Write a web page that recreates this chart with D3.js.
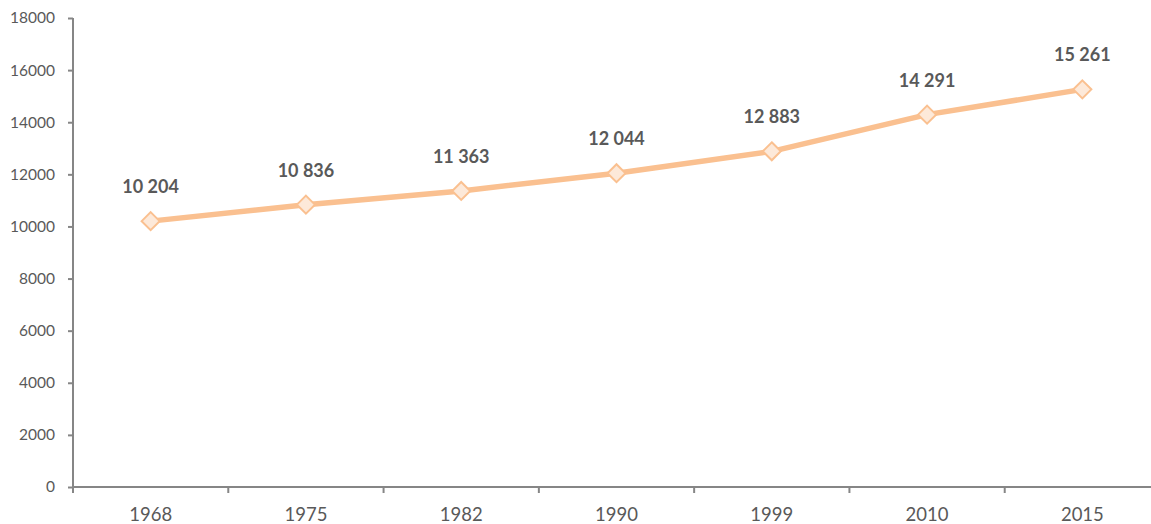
<!DOCTYPE html>
<html><head><meta charset="utf-8">
<script src="https://cdn.jsdelivr.net/npm/d3@7"></script>
<style>body{margin:0;background:#fff}svg{display:block}</style>
</head><body>
<svg id="c" width="1151" height="524"></svg>
<script>
const years = ["1968","1975","1982","1990","1999","2010","2015"];
const values = [10204,10836,11363,12044,12883,14291,15261];
const yTicks = [0,2000,4000,6000,8000,10000,12000,14000,16000,18000];

const svg = d3.select("#c");
const font = "Lato, 'Open Sans', sans-serif";
const x = d3.scaleBand().domain(years).range([73,1160]);
const y = d3.scaleLinear().domain([0,18000]).range([487,18]);
const axisColor = "#868686", textColor = "#595959";

const ya = svg.append("g").attr("transform","translate(73,0)")
  .call(d3.axisLeft(y).tickValues(yTicks).tickSize(5).tickPadding(13).tickFormat(d=>d));
const xa = svg.append("g").attr("transform","translate(0,487)")
  .call(d3.axisBottom(x).tickSize(0).tickPadding(21));
// boundary ticks
xa.selectAll(".bt").data(years.concat(["_end"])).enter().append("line")
  .attr("x1",(d,i)=>73+i*x.step()).attr("x2",(d,i)=>73+i*x.step())
  .attr("y1",0).attr("y2",6).attr("stroke",axisColor).attr("stroke-width",2);
[ya,xa].forEach(g=>{
  g.select(".domain").attr("stroke",axisColor).attr("stroke-width",2);
  g.selectAll(".tick line").attr("stroke",axisColor).attr("stroke-width",2);
  g.selectAll("text").attr("fill",textColor).style("font-family",font);
});
ya.selectAll("text").style("font-size","15.5px");
xa.selectAll("text").style("font-size","18.5px");
ya.select(".domain").attr("d","M0,487V18");
xa.select(".domain").attr("d","M73,0H1160");

const cx = d => x(d)+x.bandwidth()/2;
const pts = years.map((d,i)=>[cx(d), y(values[i])]);
svg.append("path").attr("d",d3.line()(pts)).attr("fill","none")
  .attr("stroke","#FAC090").attr("stroke-width",5.5).attr("stroke-linejoin","round");
svg.selectAll(".m").data(pts).enter().append("path")
  .attr("d",d=>`M${d[0]},${d[1]-9}L${d[0]+9},${d[1]}L${d[0]},${d[1]+9}L${d[0]-9},${d[1]}Z`)
  .attr("fill","#FDE9D9").attr("stroke","#FAC090").attr("stroke-width",2);
svg.selectAll(".lbl").data(values).enter().append("text")
  .attr("x",(d,i)=>cx(years[i])).attr("y",d=>y(d)-28)
  .attr("text-anchor","middle").attr("fill",textColor)
  .style("font-family",font).style("font-size","18px").style("font-weight","bold")
  .text(d=>d3.format(",")(d).replace(",", " "));
</script>
</body></html>
